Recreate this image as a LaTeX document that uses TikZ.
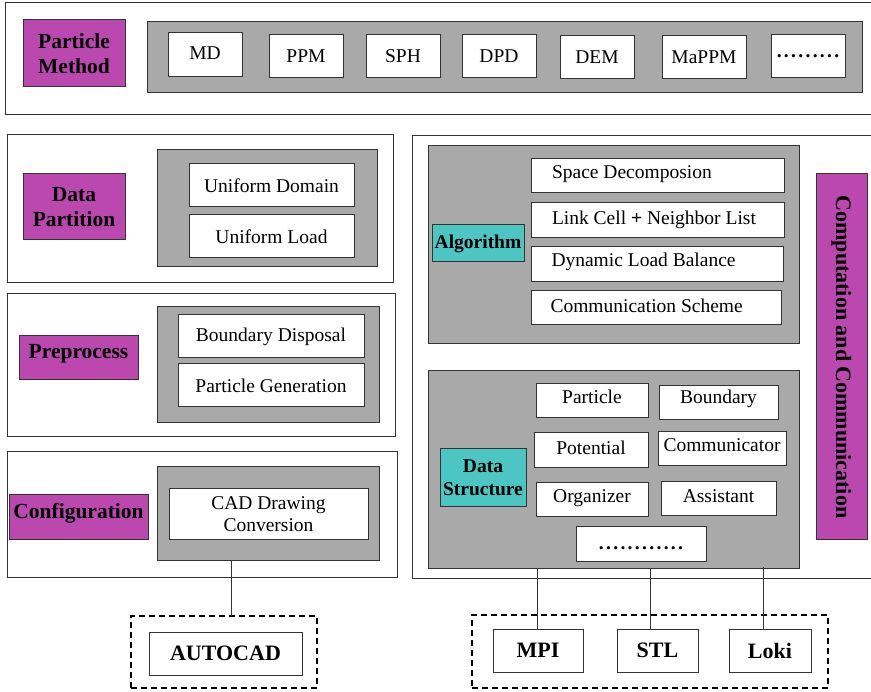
\documentclass[tikz,border=0pt]{standalone}
\usepackage{fontspec}
\setmainfont{Liberation Serif}
\definecolor{purp}{HTML}{BA48AE}
\definecolor{tealc}{HTML}{4BC6C3}
\definecolor{gry}{HTML}{A9A9A9}
\definecolor{edgec}{HTML}{333333}
\newcommand{\dotrow}[1]{\foreach \i in {1,...,#1}{\makebox[7.2pt]{\textbf{.}}}}
\newcommand{\rb}[2]{\raisebox{#1}[\height][\depth]{#2}}
% \bx{style}{name}{x1}{y1}{x2}{y2}{text}
\newcommand{\bx}[7]{\node[#1, minimum width={(#5)-(#3)}, minimum height={(#6)-(#4)}, anchor=center] (#2) at ({((#3)+(#5))/2},{((#4)+(#6))/2}) {#7};}
\tikzset{
 base/.style={draw=edgec, line width=1pt, inner sep=0pt, outer sep=0pt},
 outerbox/.style={base, fill=white},
 graybox/.style={base, fill=gry},
 itembox/.style={base, fill=white, font=\fontsize{19.5}{22}\selectfont, align=center},
 purplebox/.style={base, fill=purp, font=\fontsize{21.5}{25}\selectfont\bfseries, align=center},
 tealbox/.style={base, fill=tealc, font=\fontsize{19.5}{23}\selectfont\bfseries, align=center},
 libbox/.style={base, fill=white, font=\fontsize{22}{24}\selectfont\bfseries},
 dashbox/.style={draw=black, line width=1.6pt, dash pattern=on 6pt off 4pt, inner sep=0pt, outer sep=0pt},
 link/.style={draw=edgec, line width=1pt},
}
\begin{document}
\begin{tikzpicture}[x=1pt,y=-1pt]
\useasboundingbox (0,0) rectangle (871,692);
% ---------- Particle Method row
\bx{outerbox}{pmouter}{5}{3}{875}{115}{}
\bx{purplebox}{pm}{23}{20}{125}{87}{Particle\\Method}
\bx{graybox}{pmgray}{147}{22}{862}{93}{}
\bx{itembox}{md}{168}{33}{242}{77}{\rb{2pt}{MD}}
\bx{itembox}{ppm}{269}{35}{343}{78}{PPM}
\bx{itembox}{sph}{366}{35}{440}{78}{SPH}
\bx{itembox}{dpd}{462}{35}{536}{78}{DPD}
\bx{itembox}{dem}{560}{36}{634}{79}{DEM}
\bx{itembox}{mappm}{662}{36}{746}{79}{MaPPM}
\bx{itembox}{pmdots}{771}{35}{845}{78}{\dotrow{9}}
% ---------- Data Partition
\bx{outerbox}{dpouter}{7}{135}{393}{283}{}
\bx{purplebox}{dp}{23}{174}{125}{240}{Data\\Partition}
\bx{graybox}{dpgray}{157}{150}{377}{267}{}
\bx{itembox}{ud}{189}{164}{354}{207}{Uniform Domain}
\bx{itembox}{ul}{189}{215}{354}{258}{Uniform Load}
% ---------- Preprocess
\bx{outerbox}{ppouter}{7}{294}{395}{437}{}
\bx{purplebox}{pp}{19}{336}{138}{380}{\rb{4pt}{Preprocess}}
\bx{graybox}{ppgray}{157}{307}{379}{423}{}
\bx{itembox}{bd}{178}{315}{364}{358}{Boundary Disposal}
\bx{itembox}{pg}{178}{364}{364}{407}{Particle Generation}
% ---------- Configuration
\bx{outerbox}{cfouter}{7}{452}{397}{578}{}
\bx{purplebox}{cf}{9}{495}{148}{540}{\rb{4pt}{Configuration}}
\bx{graybox}{cfgray}{157}{467}{379}{561}{}
\bx{itembox}{cad}{169}{489}{368}{540}{CAD Drawing\\Conversion}
\bx{dashbox}{autodash}{131}{616}{317}{688}{}
\bx{libbox}{autocad}{149}{632}{302}{675}{AUTOCAD}
% ---------- Computation and Communication
\bx{outerbox}{ccouter}{412}{136}{875}{579}{}
\bx{graybox}{alggray}{428}{146}{799}{344}{}
\bx{tealbox}{alg}{432}{225}{524}{262}{Algorithm}
\bx{itembox}{sd}{531}{159}{784}{193}{\makebox[211pt][l]{\rb{2pt}{Space Decomposion}}}
\bx{itembox}{lc}{531}{203}{784}{238}{\makebox[211pt][l]{\rb{1pt}{Link Cell \textbf{+} Neighbor List}}}
\bx{itembox}{dlb}{531}{247}{783}{282}{\makebox[211pt][l]{\rb{3pt}{Dynamic Load Balance}}}
\bx{itembox}{cs}{531}{291}{781}{325}{\makebox[211pt][l]{\rb{2pt}{Communication Scheme}}}
\bx{graybox}{dsgray}{428}{371}{799}{569}{}
\bx{tealbox}{ds}{440}{449}{526}{507}{Data\\Structure}
\bx{itembox}{part}{536}{384}{648}{418}{\rb{4pt}{Particle}}
\bx{itembox}{bnd}{659}{386}{778}{420}{\rb{4pt}{Boundary}}
\bx{itembox}{pot}{534}{433}{648}{468}{\rb{3pt}{Potential}}
\bx{itembox}{comm}{658}{432}{786}{466}{\rb{4pt}{Communicator}}
\bx{itembox}{org}{536}{483}{648}{517}{\rb{2pt}{Organizer}}
\bx{itembox}{asst}{661}{482}{776}{516}{\rb{3pt}{Assistant}}
\bx{itembox}{dsdots}{576}{527}{706}{562}{\rb{-4pt}{\dotrow{12}}}
\node[purplebox, minimum width=366pt, minimum height=51pt, rotate=-90, font=\fontsize{22}{24}\selectfont\bfseries] (cc) at (841.5,357) {Computation and Communication};
% ---------- libraries
\bx{dashbox}{libdash}{472}{615}{828}{688}{}
\bx{libbox}{mpi}{493}{629}{583}{672}{MPI}
\bx{libbox}{stl}{617}{629}{698}{672}{STL}
\bx{libbox}{loki}{729}{629}{811}{672}{Loki}
% ---------- connectors
\coordinate (xa) at (231,0);
\coordinate (xm) at (537,0);
\coordinate (xs) at (650,0);
\coordinate (xl) at (763,0);
\draw[link] (cfgray.south -| xa) -- (autodash.north -| xa);
\draw[link] (dsgray.south -| xm) -- (mpi.north -| xm);
\draw[link] (dsgray.south -| xs) -- (stl.north -| xs);
\draw[link] ([yshift=2pt]dsgray.south -| xl) -- (loki.north -| xl);
\end{tikzpicture}
\end{document}
